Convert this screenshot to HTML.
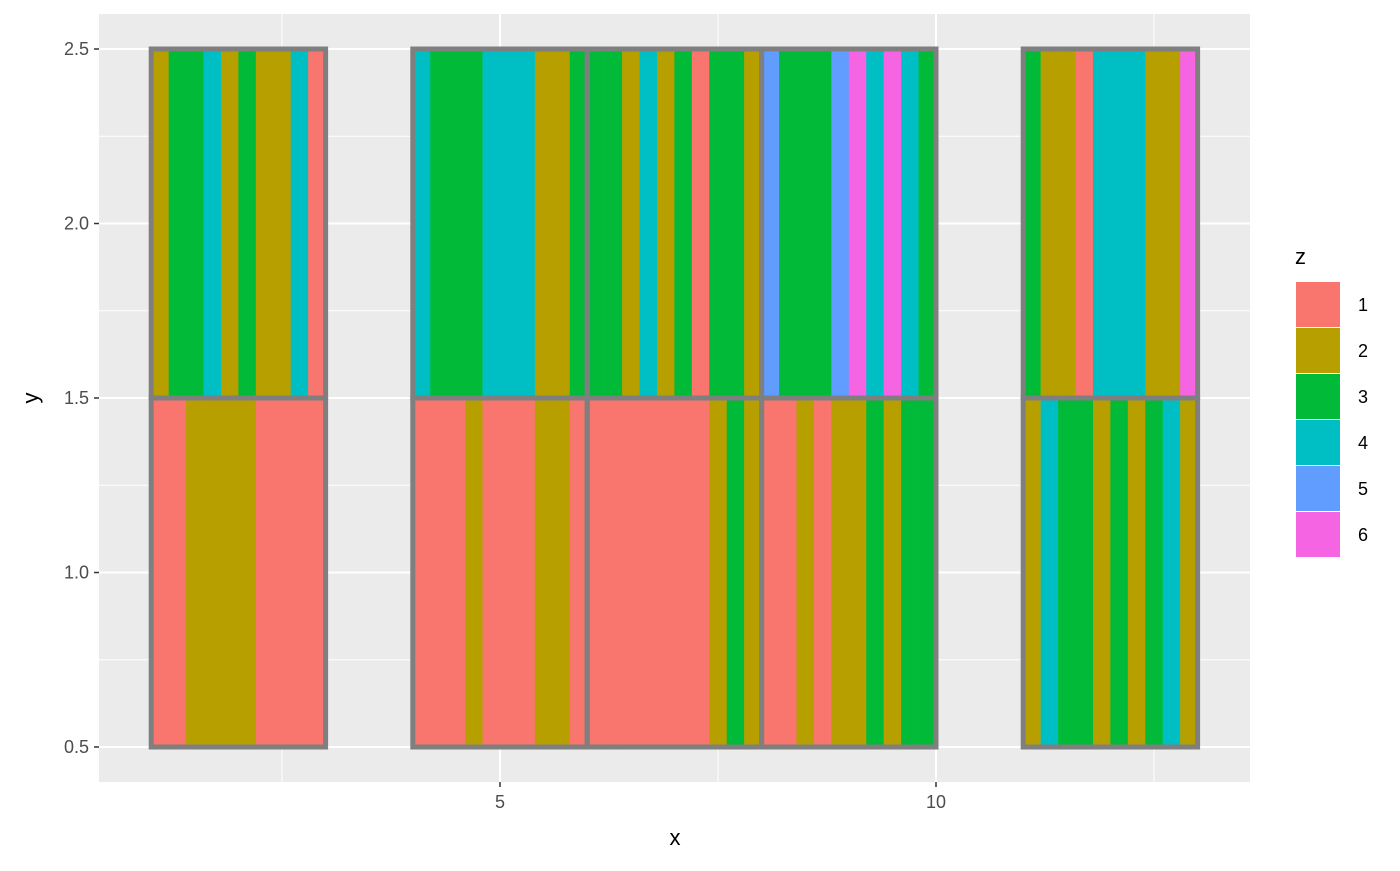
<!DOCTYPE html>
<html><head><meta charset="utf-8"><style>
body{margin:0;background:#fff;font-family:"Liberation Sans",sans-serif}
</style></head><body>
<svg id="chart" width="1400" height="866" xmlns="http://www.w3.org/2000/svg">
<rect x="99" y="14" width="1151" height="768" fill="#ebebeb"/>
<g id="grid"></g><g id="tiles"></g><g id="outlines"></g><g id="axes"></g><g id="legend"></g>
</svg>
<script>
const tileX = [2, 2, 5, 5, 7, 7, 9, 9, 12, 12];
const tileY = [2, 1, 2, 1, 2, 1, 2, 1, 2, 1];
const stripeZ = [
 [2,3,3,4,2,3,2,2,4,1],
 [1,1,2,2,2,2,1,1,1,1],
 [4,3,3,3,4,4,4,2,2,3],
 [1,1,1,2,1,1,1,2,2,1],
 [3,3,2,4,2,3,1,3,3,2],
 [1,1,1,1,1,1,1,2,3,2],
 [5,3,3,3,5,6,4,6,4,3],
 [1,1,2,1,2,2,3,2,3,3],
 [3,2,2,1,4,4,4,2,2,6],
 [2,4,3,3,2,3,2,3,4,2]
];
const xTicks = [5, 10];
const yTicks = [0.5, 1.0, 1.5, 2.0, 2.5];
const legendLevels = [1,2,3,4,5,6];
const palette = ["#F8766D","#B79F00","#00BA38","#00BFC4","#619CFF","#F564E3"];

const NS = "http://www.w3.org/2000/svg";
const X = v => 64 + (v) * 87.2;
const Y = v => 747 - (v - 0.5) * 349;
function mk(tag, attrs, parent){const e=document.createElementNS(NS,tag);for(const k in attrs)e.setAttribute(k,attrs[k]);parent.appendChild(e);return e;}
const grid=document.getElementById('grid'), tiles=document.getElementById('tiles'), outl=document.getElementById('outlines'), axes=document.getElementById('axes'), leg=document.getElementById('legend');

[2.5,7.5,12.5].forEach(v=>{const l=mk('line',{x1:X(v),x2:X(v),y1:14,y2:782,stroke:'#fff','stroke-width':1},grid);

});
[0.75,1.25,1.75,2.25].forEach(v=>{const l=mk('line',{x1:99,x2:1250,y1:Y(v),y2:Y(v),stroke:'#fff','stroke-width':1},grid);

});
xTicks.forEach(v=>{const l=mk('line',{x1:X(v),x2:X(v),y1:14,y2:782,stroke:'#fff','stroke-width':2},grid);

});
yTicks.forEach(v=>{const l=mk('line',{x1:99,x2:1250,y1:Y(v),y2:Y(v),stroke:'#fff','stroke-width':2},grid);

});

tileX.forEach((cx,i)=>{
  const cy=tileY[i];
  stripeZ[i].forEach((z,j)=>{
    const x0=cx-1+j*0.2;
    const r=mk('rect',{x:X(x0),y:Y(cy+0.5),width:X(x0+0.2)-X(x0)+0.3,height:Y(cy-0.5)-Y(cy+0.5),fill:palette[z-1]},tiles);
    
    
  });
});
tileX.forEach((cx,i)=>{
  const cy=tileY[i];
  const r=mk('rect',{x:X(cx-1),y:Y(cy+0.5),width:X(cx+1)-X(cx-1),height:Y(cy-0.5)-Y(cy+0.5),fill:'none',stroke:'#7f7f7f','stroke-width':5},outl);
  
  
});

xTicks.forEach(v=>{
  const t=mk('line',{x1:X(v),x2:X(v),y1:782,y2:787,stroke:'#333','stroke-width':1.5},axes);
  
  
  const l=mk('text',{x:X(v),y:808,'text-anchor':'middle','font-size':18,fill:'#4d4d4d'},axes);
  l.textContent=v;
  
  
});
yTicks.forEach(v=>{
  const t=mk('line',{x1:94,x2:99,y1:Y(v),y2:Y(v),stroke:'#333','stroke-width':1.5},axes);
  
  
  const l=mk('text',{x:89,y:Y(v)+6,'text-anchor':'end','font-size':18,fill:'#4d4d4d'},axes);
  l.textContent=v.toFixed(1);
  
  
});
const xt=mk('text',{x:675,y:845,'text-anchor':'middle','font-size':22,fill:'#000'},axes);
xt.textContent='x';


const yt=mk('text',{x:38,y:398,'text-anchor':'middle','font-size':22,fill:'#000',transform:'rotate(-90 38 398)'},axes);
yt.textContent='y';



const lt=mk('text',{x:1295,y:264,'font-size':22,fill:'#000'},leg);
lt.textContent='z';


legendLevels.forEach((lv,i)=>{
  const y0=282+i*46;
  const r=mk('rect',{x:1296,y:y0,width:44,height:45,fill:palette[i]},leg);
  
  
  const t=mk('text',{x:1358,y:y0+29,'font-size':18,fill:'#000'},leg);
  t.textContent=lv;
  
  
});
</script>
</body></html>
